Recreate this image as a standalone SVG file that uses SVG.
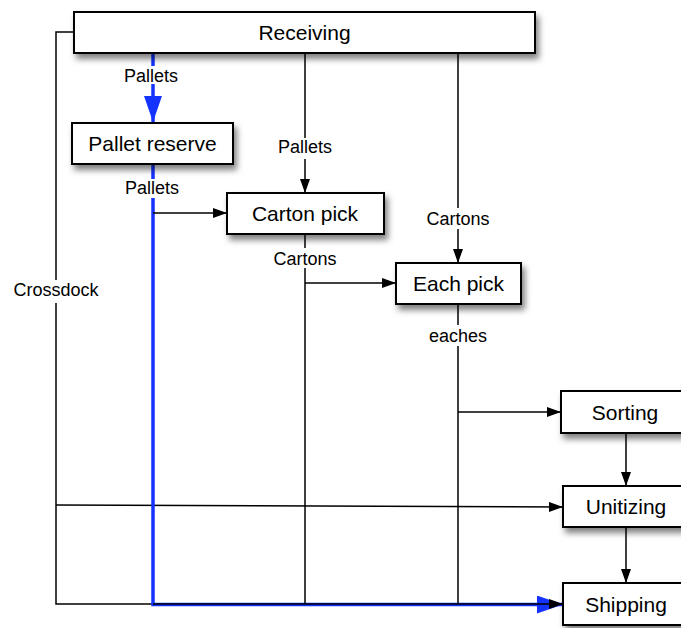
<svg xmlns="http://www.w3.org/2000/svg" width="681" height="628" viewBox="0 0 681 628">
<style>
.box{fill:#fff;stroke:#000;stroke-width:2;filter:url(#sh)}
.nt{font-family:"Liberation Sans",Arial,sans-serif;font-size:21px;text-anchor:middle;fill:#000}
.lt{font-family:"Liberation Sans",Arial,sans-serif;font-size:18px;text-anchor:middle;fill:#000}
.c{fill:none;stroke:#000;stroke-width:1.5}
.ca{fill:none;stroke:#000;stroke-width:1.5;marker-end:url(#ah)}
.b{fill:none;stroke:#1433ff;stroke-width:3.5}
.lb{fill:#fff}
</style>
<defs>
<filter id="sh" x="-10%" y="-30%" width="130%" height="180%">
<feDropShadow dx="3" dy="5" stdDeviation="3" flood-color="#000" flood-opacity="0.5"/>
</filter>
<marker id="ah" viewBox="0 0 14 10" refX="14" refY="5" markerWidth="14" markerHeight="10" markerUnits="userSpaceOnUse" orient="auto">
<path d="M0,0 L14,5 L0,10 Z" fill="#000"/>
</marker>
<marker id="bh" viewBox="0 0 26 18" refX="26" refY="9" markerWidth="26" markerHeight="18" markerUnits="userSpaceOnUse" orient="auto">
<path d="M0,0 L26,9 L0,18 Z" fill="#1433ff"/>
</marker>
</defs>
<g id="connectors">
<path class="c" d="M74,32 H56 V604 H153"/>
<path class="ca" d="M56,505 L563,507"/>
<path class="b" d="M153,53 V122" marker-end="url(#bh)"/>
<path class="b" d="M153,164 V604.5 H563" marker-end="url(#bh)"/>
<path class="ca" d="M153,213 H227"/>
<path class="ca" d="M305,53 V193"/>
<path class="ca" d="M458,53 V263"/>
<path class="c" d="M305,234 V604"/>
<path class="ca" d="M305,283 H396"/>
<path class="c" d="M458,304 V604"/>
<path class="ca" d="M458,412 H561"/>
<path class="ca" d="M153,604 H563"/>
<path class="ca" d="M626,433 V486"/>
<path class="ca" d="M626,527 V583"/>
</g>
<g id="labels">
<rect class="lb" x="114" y="66" width="74" height="18"/>
<text class="lt" x="151" y="82">Pallets</text>
<rect class="lb" x="116" y="179" width="73" height="19"/>
<text class="lt" x="152" y="194">Pallets</text>
<rect class="lb" x="277" y="138" width="56" height="21"/>
<text class="lt" x="305" y="153">Pallets</text>
<rect class="lb" x="425" y="208" width="66" height="21"/>
<text class="lt" x="458" y="225">Cartons</text>
<rect class="lb" x="264" y="248" width="83" height="20"/>
<text class="lt" x="305" y="265">Cartons</text>
<rect class="lb" x="428" y="325" width="60" height="21"/>
<text class="lt" x="458" y="342">eaches</text>
<rect class="lb" x="12" y="280" width="88" height="23"/>
<text class="lt" x="56" y="296">Crossdock</text>
</g>
<g id="receiving"><rect class="box" x="74" y="12" width="461" height="41"/><text class="nt" x="304.5" y="40">Receiving</text></g>
<g id="pallet-reserve"><rect class="box" x="72" y="123" width="161" height="41"/><text class="nt" x="152.5" y="151">Pallet reserve</text></g>
<g id="carton-pick"><rect class="box" x="227" y="193" width="157" height="41"/><text class="nt" x="305" y="221">Carton pick</text></g>
<g id="each-pick"><rect class="box" x="396" y="263" width="125" height="41"/><text class="nt" x="458.5" y="291">Each pick</text></g>
<g id="sorting"><rect class="box" x="561" y="391" width="128" height="42"/><text class="nt" x="625" y="419.5">Sorting</text></g>
<g id="unitizing"><rect class="box" x="563" y="486" width="126" height="41"/><text class="nt" x="626" y="514">Unitizing</text></g>
<g id="shipping"><rect class="box" x="563" y="583" width="126" height="42"/><text class="nt" x="626" y="611.5">Shipping</text></g>
</svg>
